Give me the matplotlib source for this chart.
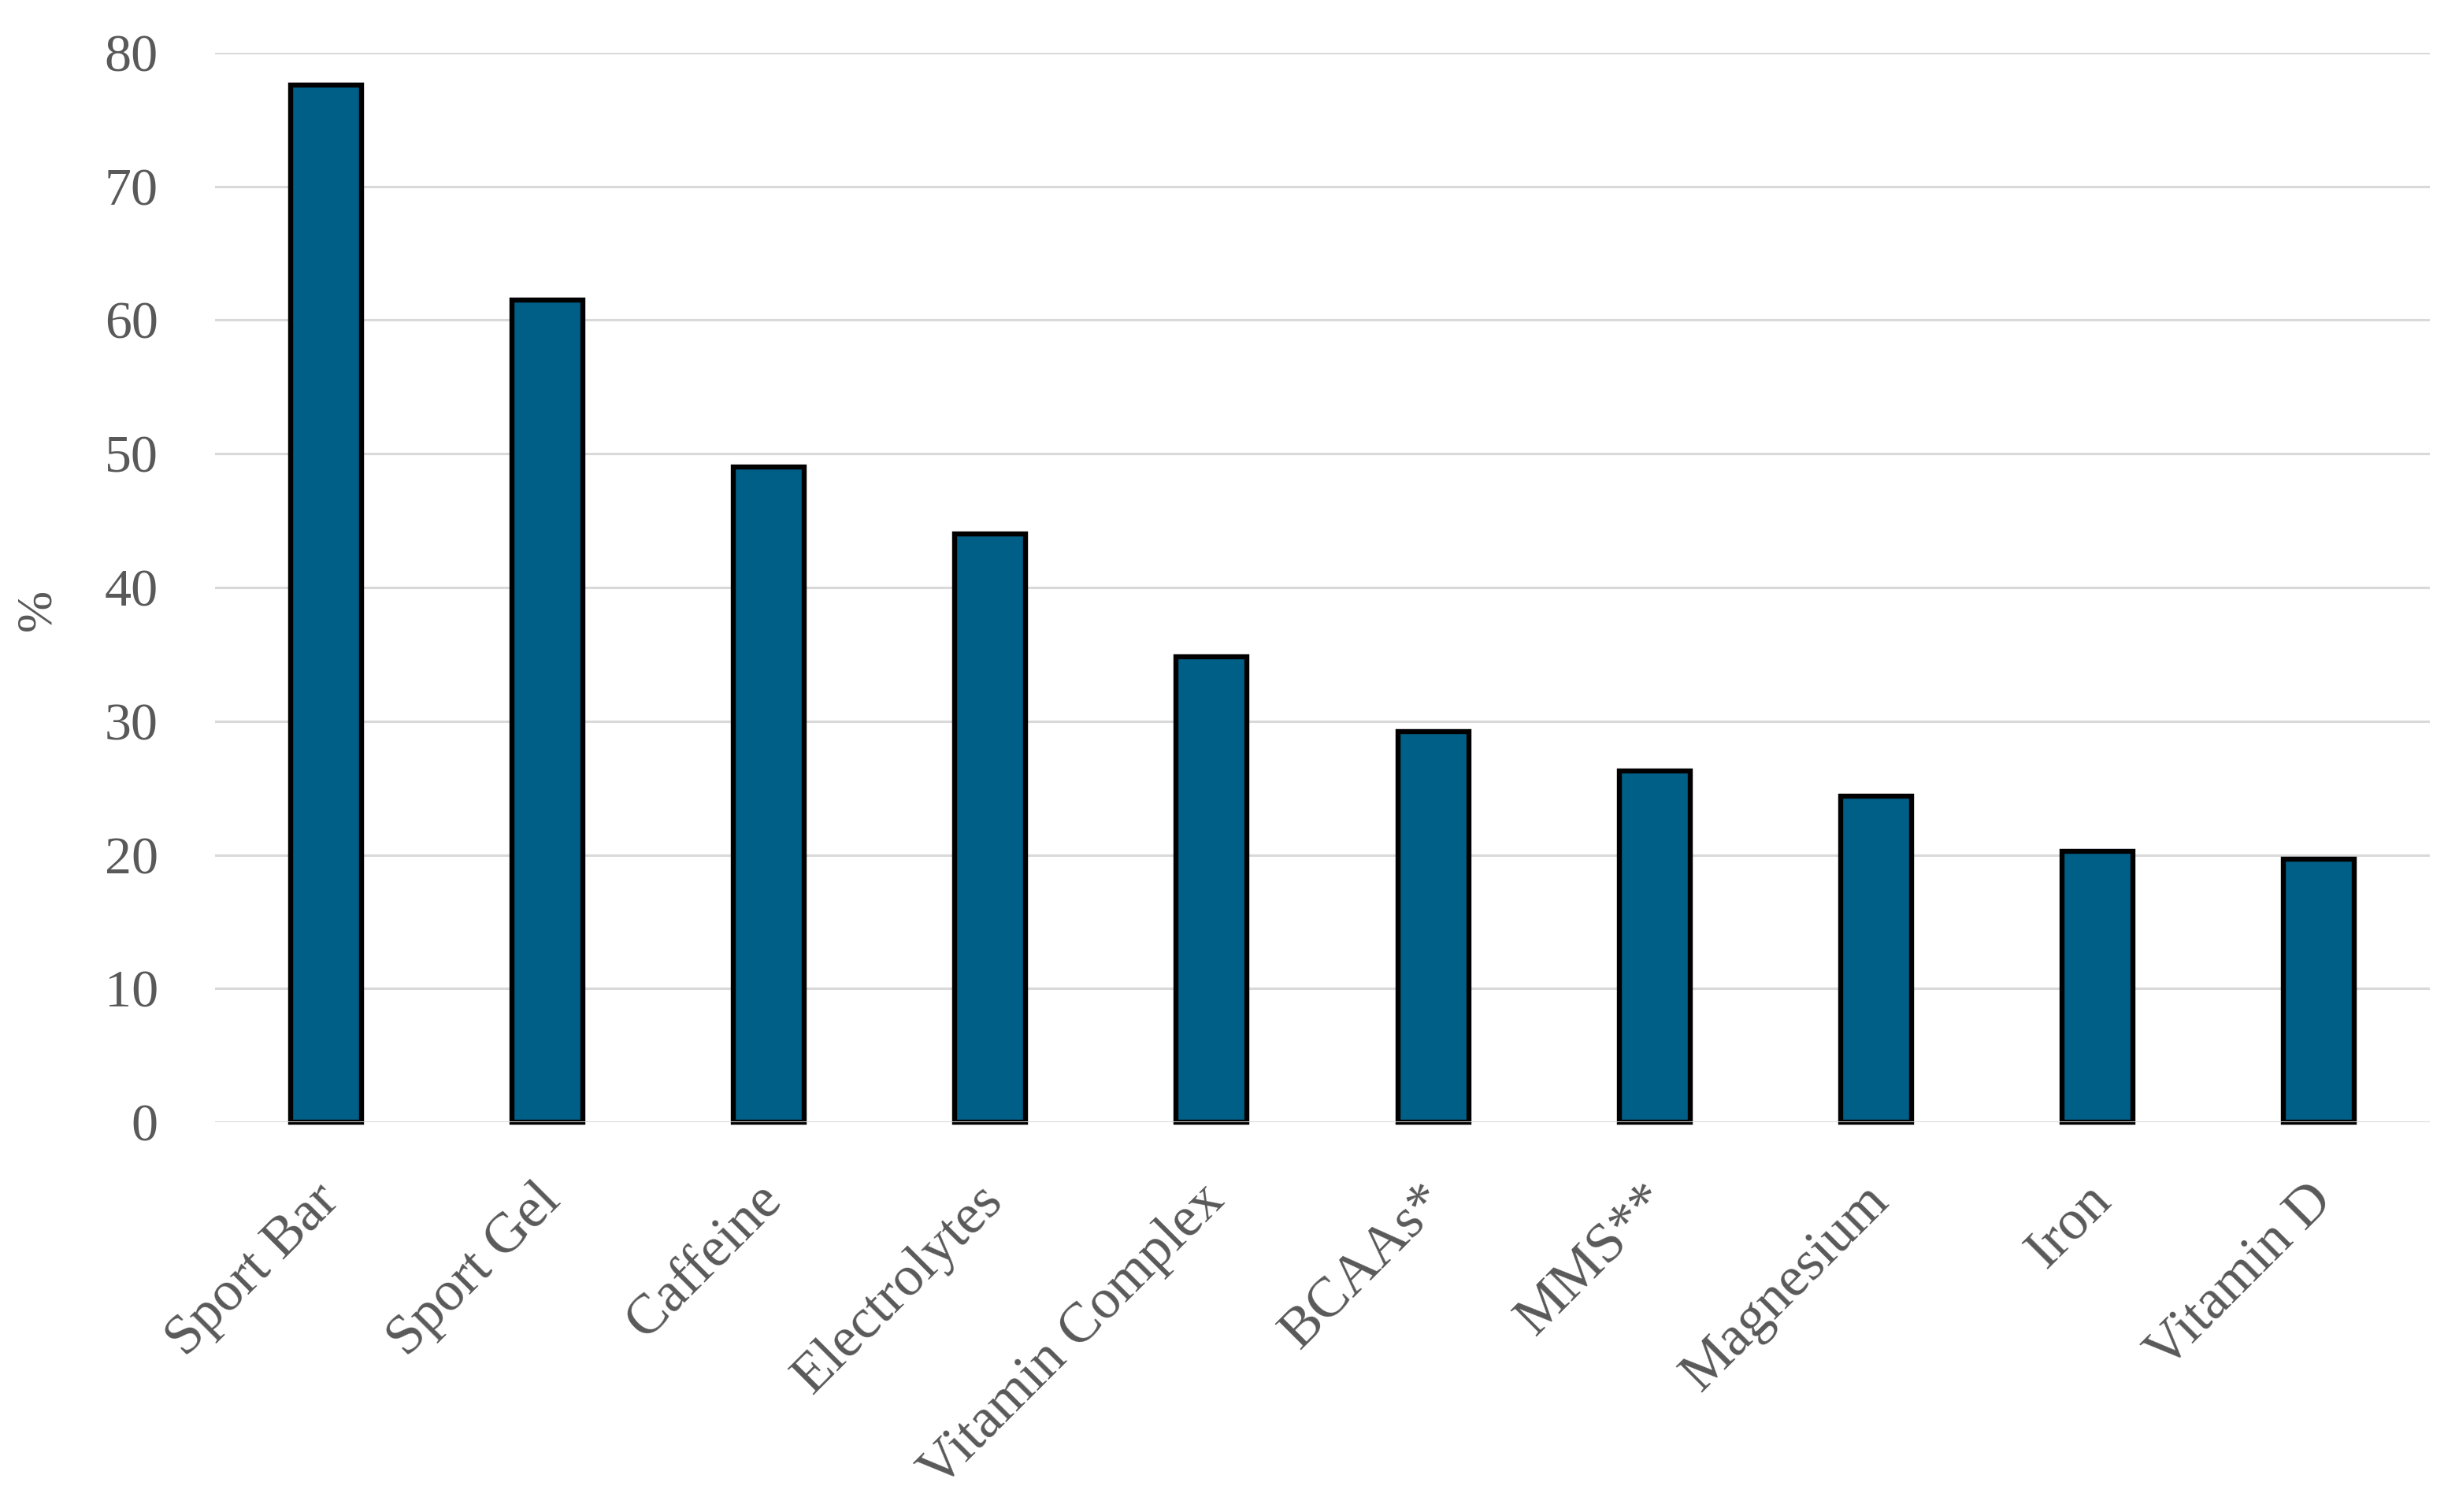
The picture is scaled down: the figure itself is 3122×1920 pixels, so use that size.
import matplotlib
matplotlib.use("Agg")
import matplotlib.pyplot as plt
import matplotlib.transforms as mtransforms

categories = ["Sport Bar", "Sport Gel", "Caffeine", "Electrolytes", "Vitamin Complex",
              "BCAAs*", "MMS**", "Magnesium", "Iron", "Vitamin D"]
values = [77.6, 61.5, 49.0, 44.0, 34.8, 29.2, 26.3, 24.4, 20.25, 19.65]
yticks = [0, 10, 20, 30, 40, 50, 60, 70, 80]

plt.rcParams['font.family'] = ['Liberation Serif', 'DejaVu Serif']
text_color = '#595959'
grid_color = '#d9d9d9'

W, H, DPI = 3122, 1920, 200
fig = plt.figure(figsize=(W/DPI, H/DPI), dpi=DPI)
left, right, top, bottom = 273/W, 3085/W, 1 - 67/H, 1 - 1425/H
ax = fig.add_axes([left, bottom, right-left, top-bottom])

x = list(range(len(categories)))
bars = ax.bar(x, values, width=0.32, color='#005f87', edgecolor='black', linewidth=2.3, zorder=3)
for b in bars:
    b.set_clip_on(False)
ax.axhline(0, color=grid_color, linewidth=1.1, zorder=4)

ax.set_xlim(-0.5, len(categories)-0.5)
ax.set_ylim(0, 80)
ax.set_yticks(yticks)
ax.yaxis.grid(True, color=grid_color, linewidth=1.1, zorder=0)
ax.set_axisbelow(True)
for s in ax.spines.values():
    s.set_visible(False)
ax.tick_params(axis='both', length=0, labelcolor=text_color)
ax.tick_params(axis='y', pad=26, labelsize=24.5)
ax.tick_params(axis='x', pad=0)
ax.set_xticks(x)
ax.set_xticklabels(categories, rotation=45, ha='right', rotation_mode='anchor', va='baseline',
                   fontsize=26)
offset = mtransforms.ScaledTranslation(6.8/72, -36.7/72, fig.dpi_scale_trans)
for lbl in ax.get_xticklabels():
    lbl.set_transform(lbl.get_transform() + offset)
ax.set_ylabel('%', fontsize=23, color=text_color, va='center')
ax.yaxis.set_label_coords((48 - 273) / (3085 - 273), (1425 - 774) / (1425 - 67))

fig.savefig('out.png', dpi=DPI)
